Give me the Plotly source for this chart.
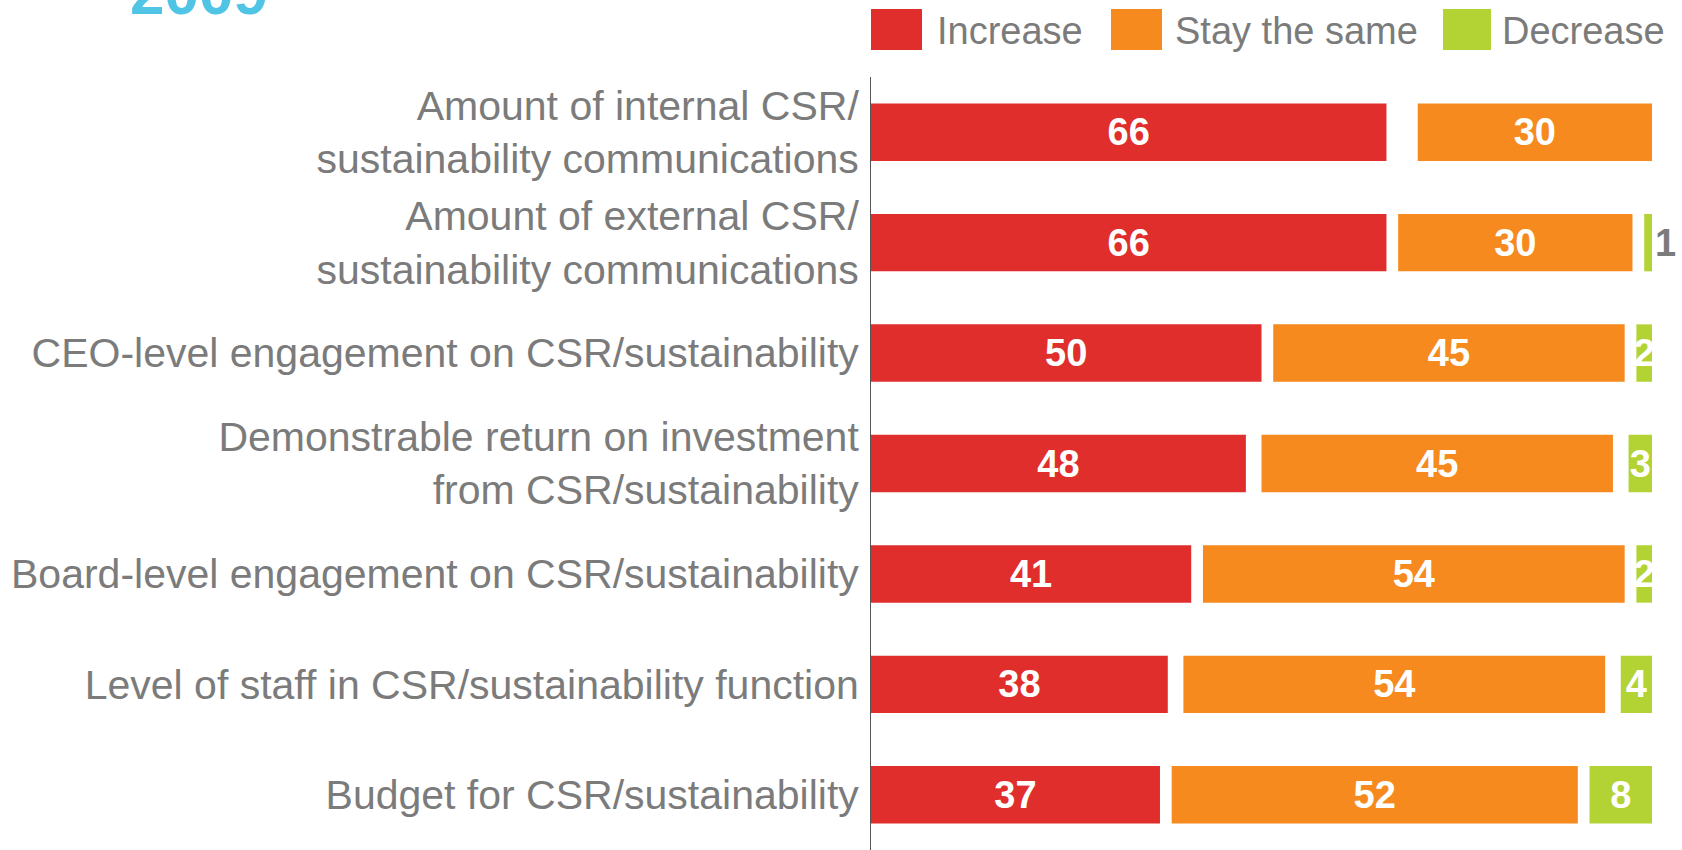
import plotly.graph_objects as go

categories = [
    "Amount of internal CSR/<br>sustainability communications",
    "Amount of external CSR/<br>sustainability communications",
    "CEO-level engagement on CSR/sustainability",
    "Demonstrable return on investment<br>from CSR/sustainability",
    "Board-level engagement on CSR/sustainability",
    "Level of staff in CSR/sustainability function",
    "Budget for CSR/sustainability",
]
increase = [66, 66, 50, 48, 41, 38, 37]
stay_same = [30, 30, 45, 45, 54, 54, 52]
decrease = [0, 1, 2, 3, 2, 4, 8]
series_names = ["Increase", "Stay the same", "Decrease"]
title_text = "2009"

RED = "#DF2E2C"
ORANGE = "#F68A1E"
GREEN = "#B3D334"
GRAY = "#7B7B7B"
FONT = "Liberation Sans, Arial, sans-serif"

# remaining share (not shown) appears as white gaps between segments
stay_base, dec_base = [], []
for i, s, d in zip(increase, stay_same, decrease):
    rem = 100 - i - s - d
    gap_after = rem / 2 if d > 0 else 0
    dec_base.append(100 - d)
    stay_base.append(100 - d - gap_after - s)

fig = go.Figure()
fig.add_trace(go.Bar(
    y=categories, x=increase, base=[0] * len(increase), orientation="h",
    name=series_names[0], marker=dict(color=RED, line=dict(width=0)),
    text=[str(v) for v in increase], textposition="inside", textangle=0,
    insidetextanchor="middle", constraintext="none",
    textfont=dict(family=FONT, size=38, color="white", weight="bold"),
    width=0.52, cliponaxis=False,
))
fig.add_trace(go.Bar(
    y=categories, x=stay_same, base=stay_base, orientation="h",
    name=series_names[1], marker=dict(color=ORANGE, line=dict(width=0)),
    text=[str(v) for v in stay_same], textposition="inside", textangle=0,
    insidetextanchor="middle", constraintext="none",
    textfont=dict(family=FONT, size=38, color="white", weight="bold"),
    width=0.52, cliponaxis=False,
))
dec_text = [str(v) if v > 0 else "" for v in decrease]
dec_pos = ["outside" if v == 1 else "inside" for v in decrease]
fig.add_trace(go.Bar(
    y=categories, x=decrease, base=dec_base, orientation="h",
    name=series_names[2], marker=dict(color=GREEN, line=dict(width=0)),
    text=dec_text, textposition=dec_pos, textangle=0,
    insidetextanchor="middle", constraintext="none",
    insidetextfont=dict(family=FONT, size=38, color="white", weight="bold"),
    outsidetextfont=dict(family=FONT, size=38, color=GRAY, weight="bold"),
    width=0.52, cliponaxis=False,
))

# custom legend (large swatches)
L, R, T, B = 871, 1652, 77, 850
def px(xp):
    return (xp - L) / (R - L)
def py(yp):
    return (B - yp) / (B - T)

swatches = [(871, 922, RED), (1111, 1162, ORANGE), (1443, 1491, GREEN)]
text_x = [935, 1173, 1500]
shapes = []
annotations = []
for (x0, x1, c), tx, name in zip(swatches, text_x, series_names):
    shapes.append(dict(type="rect", xref="paper", yref="paper",
                       x0=px(x0), x1=px(x1), y0=py(50), y1=py(9),
                       fillcolor=c, line=dict(width=0)))
    annotations.append(dict(xref="paper", yref="paper", x=px(tx), y=py(31),
                            xanchor="left", yanchor="middle", showarrow=False,
                            text=name, font=dict(family=FONT, size=38, color=GRAY)))

annotations.append(dict(xref="paper", yref="paper", x=px(128), y=py(29),
                        xanchor="left", yanchor="bottom", showarrow=False,
                        text=title_text,
                        font=dict(family=FONT, size=62, color="#50C4E4", weight="bold")))

fig.update_layout(
    width=1682, height=850,
    margin=dict(l=L, r=1682 - R, t=T, b=0, pad=0, autoexpand=False),
    barmode="overlay",
    showlegend=False,
    plot_bgcolor="white", paper_bgcolor="white",
    shapes=shapes, annotations=annotations,
    font=dict(family=FONT, color=GRAY),
)
fig.update_xaxes(range=[0, 100], showgrid=False, zeroline=False,
                 showticklabels=False, showline=False, fixedrange=True,
                 automargin=False)
fig.update_yaxes(autorange="reversed", showgrid=False, zeroline=False,
                 showline=True, linecolor="#555555", linewidth=1,
                 ticks="", ticklabelstandoff=3, automargin=False,
                 tickfont=dict(family=FONT, size=41, color=GRAY))

fig.write_html("out.html", config={"displayModeBar": False},
               post_script="document.body.style.margin='0px';")
